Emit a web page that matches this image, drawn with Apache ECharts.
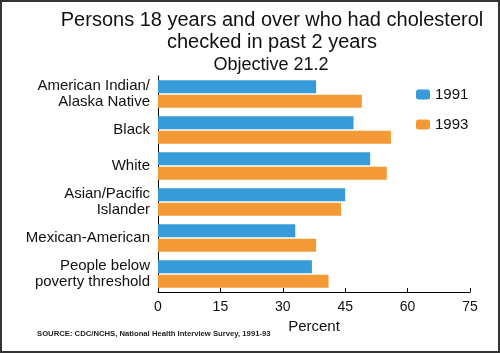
<!DOCTYPE html>
<html><head><meta charset="utf-8">
<script src="https://cdn.jsdelivr.net/npm/echarts@6/dist/echarts.min.js"></script>
<style>html,body{margin:0;padding:0;background:#fff}#c{width:500px;height:353px}</style>
</head><body><div id="c"></div>
<script>
const categories = ["American Indian/\nAlaska Native", "Black", "White", "Asian/Pacific\nIslander", "Mexican-American", "People below\npoverty threshold"];
const values1991 = [38, 47, 51, 45, 33, 37];
const values1993 = [49, 56, 55, 44, 38, 41];
const xTicks = [0, 15, 30, 45, 60, 75];
const font = "'Liberation Sans', Arial, Helvetica, sans-serif";
const chart = echarts.init(document.getElementById('c'), null, {renderer: 'canvas'});
chart.setOption({
  animation: false,
  backgroundColor: '#fff',
  title: [
    {text: 'Persons 18 years and over who had cholesterol\nchecked in past 2 years', left: 267, top: 4, textAlign: 'center',
     textStyle: {fontFamily: font, fontSize: 20, fontWeight: 'normal', color: '#111', lineHeight: 22}},
    {text: 'Objective 21.2', left: 266, top: 51, textAlign: 'center',
     textStyle: {fontFamily: font, fontSize: 18, fontWeight: 'normal', color: '#111'}},
    {text: 'SOURCE: CDC/NCHS, National Health Interview Survey, 1991-93', left: 32, top: 325,
     textStyle: {fontFamily: font, fontSize: 7.7, fontWeight: 'bold', color: '#222'}}
  ],
  legend: {
    orient: 'vertical', left: 411, top: 82, itemWidth: 14, itemHeight: 10, itemGap: 15,
    textStyle: {fontFamily: font, fontSize: 15, color: '#111'},
    data: ['1991', '1993']
  },
  grid: {left: 158, right: 30, top: 76, bottom: 61, containLabel: false},
  xAxis: {
    type: 'value', min: 0, max: 75, interval: 15,
    name: 'Percent', nameLocation: 'middle', nameGap: 22,
    nameTextStyle: {fontFamily: font, fontSize: 15, color: '#111'},
    axisLine: {show: true, lineStyle: {color: '#000', width: 1}},
    axisTick: {show: true, inside: true, length: 4, lineStyle: {color: '#000'}},
    axisLabel: {fontFamily: font, fontSize: 14, color: '#111', margin: 8,
      formatter: v => xTicks.includes(v) ? String(v) : ''},
    splitLine: {show: false}
  },
  yAxis: {
    type: 'category', inverse: true, data: categories,
    axisLine: {show: true, lineStyle: {color: '#000', width: 1}},
    axisTick: {show: false},
    axisLabel: {fontFamily: font, fontSize: 15, color: '#111', margin: 8, lineHeight: 16, align: 'right'}
  },
  series: [
    {name: '1991', type: 'bar', data: values1991, barCategoryGap: '24%', barGap: '12%',
     itemStyle: {color: '#369bd8'}},
    {name: '1993', type: 'bar', data: values1993, barCategoryGap: '24%', barGap: '12%',
     itemStyle: {color: '#f39a37'}}
  ],
  graphic: [{type: 'rect', shape: {x: 1, y: 1, width: 498, height: 351},
    style: {fill: 'none', stroke: '#333', lineWidth: 2}, silent: true}]
});
</script></body></html>
